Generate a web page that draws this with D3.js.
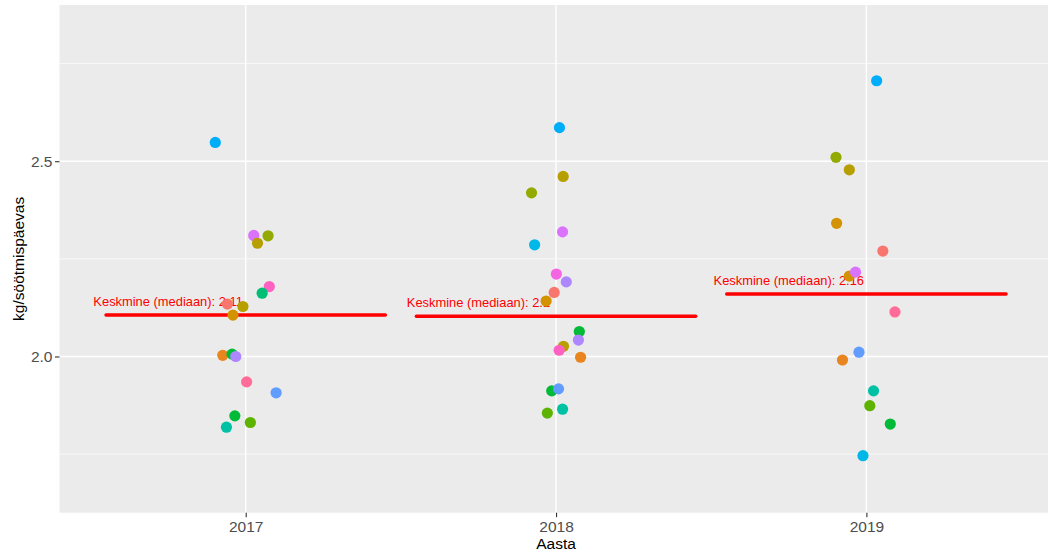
<!DOCTYPE html>
<html>
<head>
<meta charset="utf-8">
<script src="https://cdn.jsdelivr.net/npm/d3@7"></script>
<style>
  body { margin: 0; background: #fff; }
  svg { display: block; font-family: "Liberation Sans", Arial, sans-serif; }
</style>
</head>
<body>
<svg id="chart" width="1048" height="553"></svg>
<script>
// years shown on the x axis
var years = [2017, 2018, 2019];

// jittered points per year: [x offset from year, kg/söötmispäevas, group]
var points2017 = [
  [-0.098, 2.548, 11], [0.026, 2.310, 14], [0.072, 2.309, 4], [0.038, 2.290, 3],
  [0.076, 2.179, 16], [0.053, 2.162, 7], [-0.059, 2.134, 0], [-0.009, 2.128, 3],
  [-0.041, 2.106, 2], [-0.074, 2.003, 1], [-0.044, 2.006, 6], [-0.032, 2.000, 13],
  [0.003, 1.935, 17], [0.098, 1.907, 12], [-0.035, 1.848, 6], [0.015, 1.831, 5],
  [-0.062, 1.819, 8]
];
var points2018 = [
  [0.011, 2.586, 11], [0.023, 2.461, 3], [-0.079, 2.419, 4], [0.021, 2.319, 14],
  [-0.069, 2.286, 10], [0.001, 2.211, 15], [0.033, 2.191, 13], [-0.006, 2.164, 0],
  [-0.032, 2.142, 2], [0.075, 2.064, 6], [0.072, 2.042, 13], [0.024, 2.026, 3],
  [0.010, 2.016, 16], [0.079, 1.998, 1], [-0.014, 1.912, 6], [0.008, 1.917, 12],
  [-0.028, 1.855, 5], [0.021, 1.865, 8]
];
var points2019 = [
  [0.033, 2.706, 11], [-0.098, 2.510, 4], [-0.055, 2.478, 3], [-0.096, 2.341, 2],
  [0.053, 2.270, 0], [-0.055, 2.206, 2], [-0.035, 2.216, 14], [0.092, 2.114, 17],
  [-0.024, 2.011, 12], [-0.077, 1.991, 1], [0.023, 1.912, 8], [0.011, 1.874, 5],
  [0.077, 1.827, 6], [-0.011, 1.746, 10]
];
var pointsByYear = [points2017, points2018, points2019];

var yMajor = [2.0, 2.5];
var yMinor = [1.75, 2.25, 2.75];
var yTickLabels = ["2.0", "2.5"];

var palette = ["#F8766D", "#E8851E", "#D39200", "#B79F00", "#93AA00", "#5EB300",
  "#00BA38", "#00BF74", "#00C1A3", "#00BFC4", "#00B8E7", "#00ADFA",
  "#619CFF", "#AE87FF", "#DB72FB", "#F564E3", "#FF61C3", "#FF6C9A"];

var svg = d3.select("#chart");
var panel = { left: 59.5, top: 5, bottom: 512.7, right: 1052.6 };

var x = d3.scaleLinear().domain([2016.4, 2019.6]).range([panel.left, panel.right]);
var y = d3.scaleLinear().domain([1.6, 2.9]).range([panel.bottom, panel.top]);
var color = d3.scaleOrdinal().domain(d3.range(palette.length)).range(palette);

// panel background
svg.append("rect")
  .attr("x", panel.left).attr("y", panel.top)
  .attr("width", panel.right - panel.left)
  .attr("height", panel.bottom - panel.top)
  .attr("fill", "#EBEBEB");

// grid
svg.selectAll(".minor").data(yMinor).enter().append("line")
  .attr("x1", panel.left).attr("x2", panel.right)
  .attr("y1", d => y(d)).attr("y2", d => y(d))
  .attr("stroke", "#fff").attr("stroke-width", 0.7);
svg.selectAll(".majorY").data(yMajor).enter().append("line")
  .attr("x1", panel.left).attr("x2", panel.right)
  .attr("y1", d => y(d)).attr("y2", d => y(d))
  .attr("stroke", "#fff").attr("stroke-width", 1.4);
svg.selectAll(".majorX").data(years).enter().append("line")
  .attr("x1", d => x(d)).attr("x2", d => x(d))
  .attr("y1", panel.top).attr("y2", panel.bottom)
  .attr("stroke", "#fff").attr("stroke-width", 1.4);

// axes
var yAxis = svg.append("g")
  .attr("transform", "translate(" + panel.left + ",0)")
  .call(d3.axisLeft(y).tickValues(yMajor).tickSize(4.5).tickPadding(2.5)
    .tickFormat((d, i) => yTickLabels[i]));
var xAxis = svg.append("g")
  .attr("transform", "translate(0," + panel.bottom + ")")
  .call(d3.axisBottom(x).tickValues(years).tickSize(4.5).tickPadding(3.5)
    .tickFormat(d3.format("d")));
[yAxis, xAxis].forEach(function(a) {
  a.select(".domain").remove();
  a.selectAll(".tick line").attr("stroke", "#333333").attr("stroke-width", 1.1);
  a.selectAll(".tick text").attr("fill", "#4D4D4D")
    .style("font-size", "15.5px").style("font-family", "Liberation Sans, Arial, sans-serif");
});

// axis titles
svg.append("text")
  .attr("x", x(2018)).attr("y", 549)
  .attr("text-anchor", "middle")
  .style("font-size", "15.5px").attr("fill", "#000")
  .text("Aasta");
svg.append("text")
  .attr("transform", "translate(24," + ((panel.top + panel.bottom) / 2) + ") rotate(-90)")
  .attr("text-anchor", "middle")
  .style("font-size", "15.5px").attr("fill", "#000")
  .text("kg/söötmispäevas");

// medians
var medians = years.map(function(yr, i) {
  return { year: yr, value: d3.median(pointsByYear[i], d => d[1]) };
});

svg.selectAll(".median").data(medians).enter().append("line")
  .attr("x1", d => x(d.year - 0.45)).attr("x2", d => x(d.year + 0.45))
  .attr("y1", d => y(d.value)).attr("y2", d => y(d.value))
  .attr("stroke", "#FF0000").attr("stroke-width", 3.5)
  .attr("stroke-linecap", "round");

svg.selectAll(".medianLabel").data(medians).enter().append("text")
  .attr("x", d => x(d.year - 0.25))
  .attr("y", d => y(d.value + 0.035))
  .attr("dy", "0.35em")
  .attr("text-anchor", "middle")
  .attr("fill", "#FF0000")
  .style("font-size", "12.9px")
  .text(d => "Keskmine (mediaan): " + (+d.value.toFixed(2)));

// points
years.forEach(function(yr, i) {
  svg.append("g").selectAll("circle")
    .data(pointsByYear[i]).enter().append("circle")
    .attr("cx", d => x(yr + d[0]))
    .attr("cy", d => y(d[1]))
    .attr("r", 5.6)
    .attr("fill", d => color(d[2]));
});
</script>
</body>
</html>
